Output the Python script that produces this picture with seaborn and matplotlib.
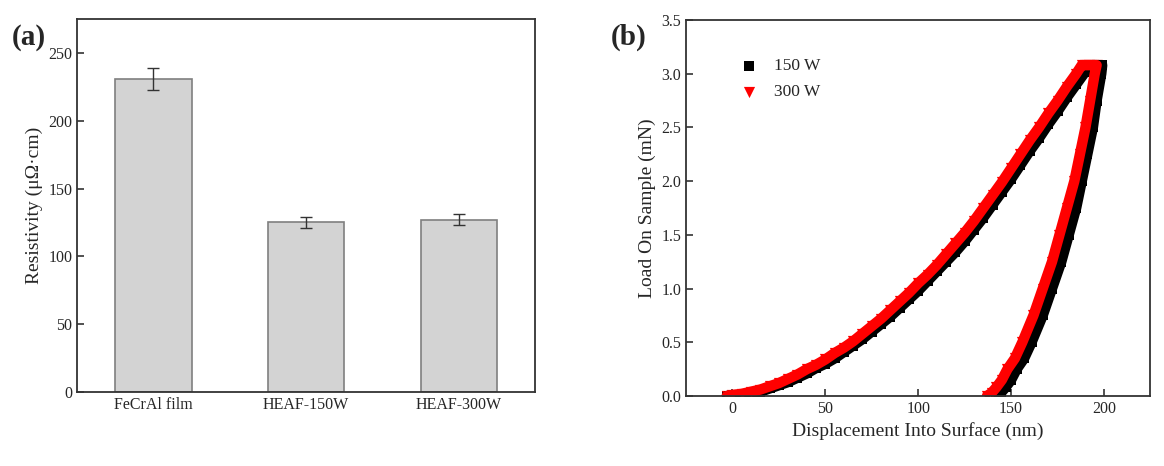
import numpy as np
import pandas as pd
import matplotlib
matplotlib.use('Agg')
import matplotlib.pyplot as plt
import seaborn as sns

# =============================================================================
# Data
# =============================================================================
# (a) resistivity of the films
samples = ['FeCrAl film', 'HEAF-150W', 'HEAF-300W']
resistivity = [231, 125, 127]
resistivity_err = [8, 4, 4]

# (b) nanoindentation load-displacement, 150 W (loading, hold, unloading)
disp_150 = [-3, 0, 5, 10, 15, 20, 25, 30, 35, 40, 45, 50, 55, 60, 65, 70, 75, 80,
            85, 90, 95, 100, 105, 110, 115, 120, 125, 130, 135, 140, 145, 150,
            155, 160, 165, 170, 175, 180, 185, 190, 193,
            195, 197, 199,
            198.5, 196, 194, 191, 188, 185, 181, 177, 172, 167, 161, 157, 153,
            150, 147, 144.5, 142]
load_150 = [0, 0, 0.01, 0.02, 0.04, 0.07, 0.10, 0.13, 0.17, 0.21, 0.26, 0.30, 0.35,
            0.41, 0.47, 0.53, 0.60, 0.67, 0.74, 0.82, 0.90, 0.98, 1.07, 1.16, 1.25,
            1.34, 1.44, 1.55, 1.66, 1.78, 1.90, 2.02, 2.15, 2.28, 2.40, 2.53, 2.65,
            2.78, 2.90, 3.02, 3.08,
            3.08, 3.08, 3.08,
            3.00, 2.75, 2.50, 2.25, 2.00, 1.75, 1.50, 1.25, 1.00, 0.75, 0.50, 0.35,
            0.25, 0.15, 0.08, 0.03, 0]

# (b) 300 W
disp_300 = [-3, 0, 5, 10, 15, 20, 25, 30, 35, 40, 45, 50, 55, 60, 65, 70, 75, 80,
            85, 90, 95, 100, 105, 110, 115, 120, 125, 130, 135, 140, 145, 150,
            155, 160, 165, 170, 175, 180, 185, 188,
            190, 192, 194, 196,
            195, 192.5, 190, 187, 184, 180, 176, 172, 167, 162, 156, 152, 148,
            145, 142, 139.5, 137]
load_300 = [0, 0.01, 0.02, 0.04, 0.06, 0.09, 0.12, 0.16, 0.20, 0.25, 0.29, 0.34, 0.40,
            0.45, 0.51, 0.58, 0.65, 0.72, 0.80, 0.88, 0.96, 1.05, 1.13, 1.22, 1.32,
            1.42, 1.52, 1.63, 1.75, 1.87, 1.99, 2.12, 2.25, 2.38, 2.50, 2.63, 2.75,
            2.88, 3.00, 3.08,
            3.08, 3.08, 3.08, 3.08,
            3.00, 2.75, 2.50, 2.25, 2.00, 1.75, 1.50, 1.25, 1.00, 0.75, 0.50, 0.35,
            0.25, 0.15, 0.08, 0.03, 0]

bar_df = pd.DataFrame({'sample': samples, 'resistivity': resistivity})
df_150 = pd.DataFrame({'disp': disp_150, 'load': load_150})
df_300 = pd.DataFrame({'disp': disp_300, 'load': load_300})

# =============================================================================
# Style
# =============================================================================
sns.set_theme(style='ticks')
plt.rcParams['font.family'] = ['Liberation Serif', 'DejaVu Serif']
plt.rcParams['axes.edgecolor'] = '#333333'
plt.rcParams['axes.linewidth'] = 1.3

fig = plt.figure(figsize=(11.64, 4.66), dpi=100)
ax1 = fig.add_axes([0.0662, 0.1588, 0.3935, 0.8004])
ax2 = fig.add_axes([0.5893, 0.1502, 0.3991, 0.8068])

# =============================================================================
# (a) bar chart
# =============================================================================
sns.barplot(data=bar_df, x='sample', y='resistivity', ax=ax1, color='#d3d3d3',
            width=0.5, edgecolor='#7f7f7f', linewidth=1.2, errorbar=None,
            saturation=1)
ax1.errorbar(range(len(samples)), resistivity, yerr=resistivity_err, fmt='none',
             ecolor='#333333', elinewidth=1, capsize=4, capthick=1)
ax1.set_xlim(-0.5, 2.5)
ax1.set_ylim(0, 275)
ax1.set_yticks(np.arange(0, 251, 50))
ax1.set_xlabel('')
ax1.set_ylabel('Resistivity (μΩ·cm)', fontsize=14)
ax1.tick_params(direction='in', length=5, width=1.2, labelsize=11.5, color='#333333')

# =============================================================================
# (b) load-displacement
# =============================================================================
sns.lineplot(data=df_150, x='disp', y='load', sort=False, estimator=None, ax=ax2,
             color='black', linewidth=7.5, legend=False)
sns.scatterplot(data=df_150, x='disp', y='load', ax=ax2, color='black', marker='s',
                s=50, linewidth=0, label='150 W')
sns.lineplot(data=df_300, x='disp', y='load', sort=False, estimator=None, ax=ax2,
             color='#ff0000', linewidth=7.5, legend=False)
sns.scatterplot(data=df_300, x='disp', y='load', ax=ax2, color='#ff0000', marker='v',
                s=65, linewidth=0, label='300 W')
ax2.set_xlim(-25, 225)
ax2.set_ylim(0, 3.5)
ax2.set_xticks([0, 50, 100, 150, 200])
ax2.set_yticks(np.arange(0, 3.51, 0.5))
ax2.yaxis.set_major_formatter(matplotlib.ticker.FormatStrFormatter('%.1f'))
ax2.set_xlabel('Displacement Into Surface (nm)', fontsize=14)
ax2.set_ylabel('Load On Sample (mN)', fontsize=14)
ax2.tick_params(direction='in', length=5, width=1.2, labelsize=11.5, color='#333333')
ax2.legend(loc='upper left', bbox_to_anchor=(0.065, 0.94), frameon=False,
           fontsize=12.5, handletextpad=0.45, labelspacing=0.55, markerscale=1.0)

fig.text(0.010, 0.905, '(a)', fontsize=21, fontweight='bold')
fig.text(0.525, 0.905, '(b)', fontsize=21, fontweight='bold')

plt.savefig('out.png', dpi=100)
